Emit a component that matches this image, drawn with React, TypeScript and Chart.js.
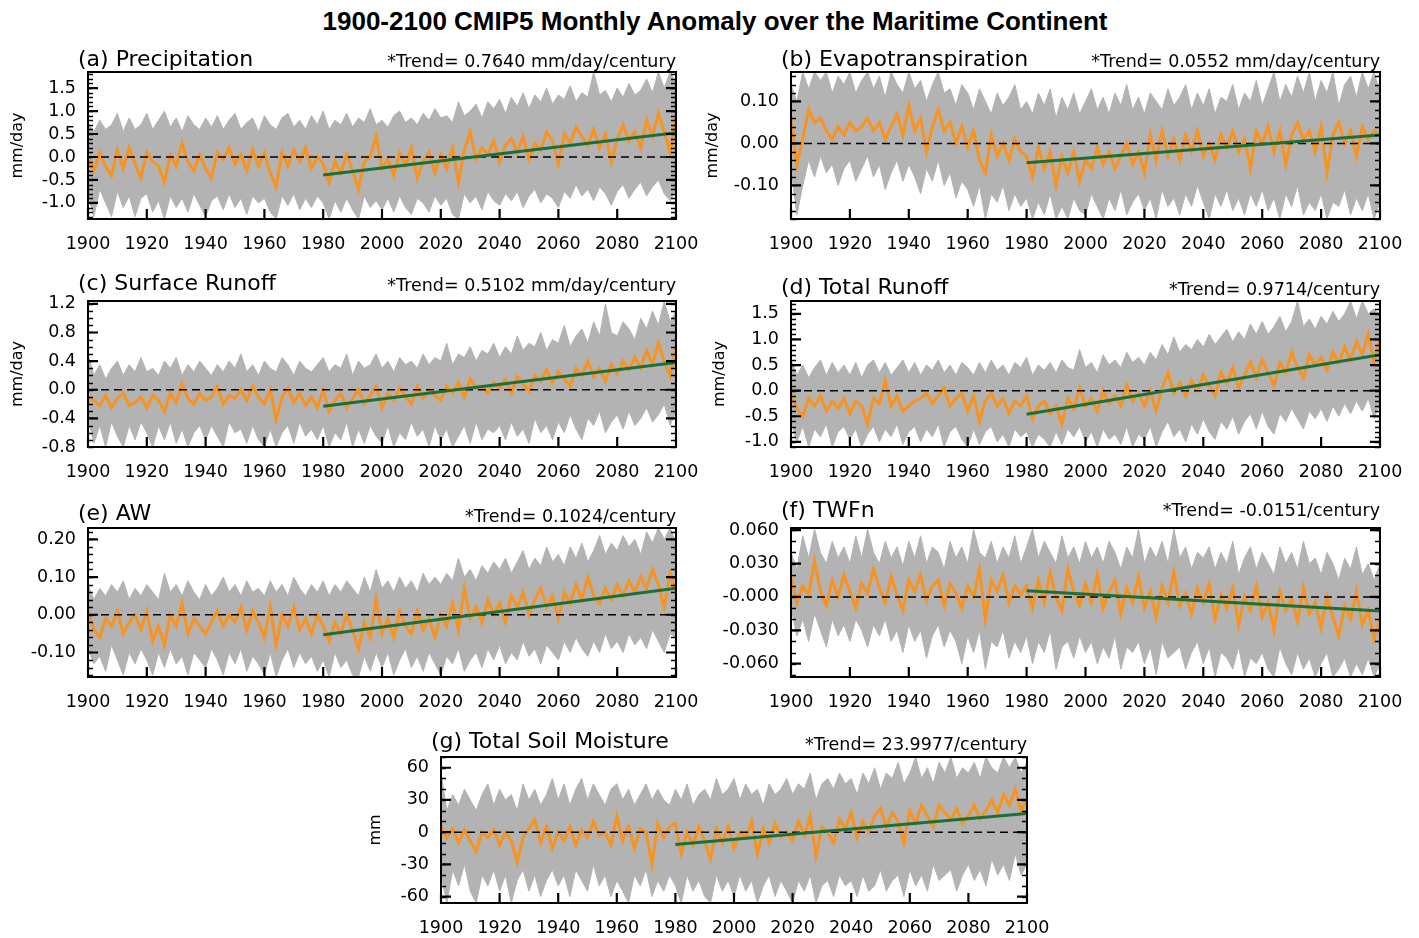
import React, { useEffect, useRef } from "react";
import { Chart, registerables } from "chart.js";

Chart.register(...registerables);

// ---------- shared axes ----------
const YEARS: number[] = Array.from({ length: 101 }, (_, i) => 1900 + 2 * i);
const X_TICKS = [1900, 1920, 1940, 1960, 1980, 2000, 2020, 2040, 2060, 2080, 2100];
const TREND_YEARS = [1980, 2100];
const ZERO_YEARS = [1900, 2100];
const ZERO_VALUES = [0, 0];

// ---------- (a) Precipitation ----------
const PR_MEAN = [
  0.05, -0.30, 0.10, -0.20, -0.40, 0.15, -0.25, 0.20, -0.15, -0.45,
  0.10, -0.10, -0.20, -0.55, 0.05, -0.20, 0.30, -0.10, -0.30, 0.05,
  -0.25, -0.45, 0.10, -0.05, 0.20, -0.15, 0.05, -0.30, 0.15, -0.20,
  0.10, -0.35, -0.65, 0.10, -0.20, 0.15, -0.10, 0.20, -0.25, 0.00,
  -0.15, -0.55, -0.10, -0.35, 0.05, -0.30, -0.70, -0.10, 0.00, 0.45,
  -0.25, -0.05, -0.40, 0.10, -0.20, 0.20, -0.45, -0.10, 0.10, -0.35,
  0.05, -0.25, 0.20, -0.55, 0.15, 0.55, -0.05, 0.20, 0.05, 0.35,
  -0.10, 0.25, 0.40, 0.10, 0.45, -0.05, 0.30, 0.15, 0.55, 0.35,
  -0.15, 0.50, 0.30, 0.65, 0.45, 0.25, 0.60, 0.20, 0.50, -0.10,
  0.40, 0.70, 0.35, 0.55, 0.20, 0.80, 0.45, 0.95, 0.55, 0.10,
  0.90,
];
const PR_UPPER = [
  0.75, 0.55, 0.80, 0.60, 0.70, 0.95, 0.55, 0.85, 0.60, 0.70,
  0.95, 0.60, 0.80, 1.00, 0.65, 0.85, 0.55, 0.90, 0.70, 0.60,
  0.85, 0.65, 0.90, 0.60, 0.80, 0.95, 0.60, 0.75, 0.85, 0.55,
  0.90, 0.70, 0.60, 0.85, 0.95, 0.65, 0.80, 0.60, 0.90, 0.70,
  1.00, 0.60, 0.80, 0.70, 0.95, 0.65, 0.85, 0.75, 1.05, 0.70,
  0.80, 0.65, 0.90, 1.00, 0.75, 0.85, 0.70, 0.95, 0.80, 1.05,
  0.85, 0.90, 0.75, 1.20, 0.90, 1.00, 1.15, 0.85, 1.20, 1.05,
  1.25, 0.95, 1.30, 1.10, 1.40, 1.05, 1.35, 1.20, 1.50, 1.15,
  1.35, 1.25, 1.55, 1.20, 1.40, 1.30, 1.85, 1.35, 1.45, 1.20,
  1.50, 1.30, 1.60, 1.35, 1.45, 1.70, 1.40, 1.85, 1.50, 1.85,
  1.60,
];
const PR_LOWER = [
  -0.80, -1.30, -0.70, -1.00, -1.30, -0.75, -1.10, -0.85, -1.30, -0.90,
  -0.80, -1.20, -0.95, -1.35, -0.85, -1.10, -0.90, -1.20, -0.80, -1.05,
  -1.30, -0.95, -0.85, -1.15, -0.80, -1.10, -0.90, -1.25, -0.85, -1.00,
  -0.90, -1.20, -1.35, -0.85, -1.05, -0.80, -1.15, -0.90, -1.10, -0.85,
  -1.00, -1.35, -0.95, -1.20, -0.90, -1.15, -1.35, -0.85, -1.10, -0.95,
  -1.15, -0.90, -1.20, -0.85, -1.10, -1.25, -0.90, -1.00, -1.20, -0.85,
  -1.05, -0.90, -1.25, -1.35, -0.80, -1.00, -0.85, -1.15, -0.75, -0.95,
  -1.05, -0.80, -0.95, -0.75, -1.10, -0.85, -0.70, -1.00, -0.80, -0.90,
  -1.10, -0.75, -0.90, -0.60, -0.85, -0.70, -0.95, -0.65, -0.80, -1.05,
  -0.75, -0.60, -0.90, -0.70, -0.55, -0.85, -0.65, -0.50, -0.80, -0.95,
  -0.70,
];
const PR_TREND = [-0.39, 0.53];
const PR_Y_TICKS = [-1.0, -0.5, 0.0, 0.5, 1.0, 1.5];
const PR_Y_LABELS = ["-1.0", "-0.5", "0.0", "0.5", "1.0", "1.5"];

// ---------- (b) Evapotranspiration ----------
const ET_MEAN = [
  0.06, -0.05, 0.01, 0.08, 0.05, 0.06, 0.03, 0.01, 0.04, 0.02,
  0.05, 0.03, 0.04, 0.06, 0.03, 0.05, 0.01, 0.04, 0.07, 0.02,
  0.09, 0.03, 0.06, -0.02, 0.04, 0.08, 0.03, 0.05, 0.00, 0.04,
  -0.01, 0.03, -0.04, -0.07, 0.02, -0.03, 0.00, -0.04, 0.01, -0.02,
  -0.03, -0.08, -0.01, -0.06, -0.02, -0.10, -0.03, -0.07, -0.02, -0.09,
  -0.04, -0.06, -0.01, -0.05, -0.02, -0.06, -0.03, 0.00, -0.05, -0.02,
  -0.07, 0.02, -0.04, 0.03, -0.03, 0.01, -0.04, 0.02, -0.02, 0.03,
  -0.03, 0.00, -0.04, 0.02, -0.01, 0.03, -0.02, 0.01, -0.06, 0.03,
  0.00, 0.04, -0.02, 0.03, -0.05, 0.02, 0.05, 0.01, 0.03, -0.02,
  0.04, -0.07, 0.02, 0.05, 0.00, 0.03, -0.03, 0.04, 0.01, 0.03,
  0.02,
];
const ET_UPPER = [
  0.14, 0.10, 0.17, 0.13, 0.17, 0.15, 0.17, 0.12, 0.16, 0.14,
  0.17, 0.12, 0.15, 0.17, 0.13, 0.16, 0.11, 0.17, 0.14, 0.12,
  0.17, 0.13, 0.15, 0.10, 0.14, 0.17, 0.12, 0.13, 0.09, 0.14,
  0.12, 0.08, 0.13, 0.10, 0.07, 0.12, 0.09, 0.11, 0.14, 0.08,
  0.10, 0.07, 0.12, 0.09, 0.13, 0.06, 0.11, 0.08, 0.12, 0.07,
  0.10, 0.13, 0.08, 0.11, 0.07, 0.12, 0.09, 0.14, 0.08, 0.11,
  0.07, 0.12, 0.10, 0.08, 0.13, 0.09, 0.11, 0.14, 0.08, 0.12,
  0.09, 0.13, 0.07, 0.11, 0.10, 0.14, 0.08, 0.12, 0.10, 0.15,
  0.09, 0.13, 0.17, 0.10, 0.14, 0.11, 0.16, 0.12, 0.17, 0.10,
  0.15, 0.12, 0.17, 0.09, 0.14, 0.16, 0.11, 0.17, 0.13, 0.17,
  0.12,
];
const ET_LOWER = [
  -0.06, -0.17, -0.10, -0.04, -0.08, -0.03, -0.07, -0.05, -0.10, -0.06,
  -0.04, -0.09, -0.06, -0.03, -0.08, -0.05, -0.11, -0.07, -0.04, -0.09,
  -0.05, -0.08, -0.12, -0.06, -0.09, -0.04, -0.10, -0.07, -0.13, -0.09,
  -0.11, -0.15, -0.10, -0.18, -0.12, -0.14, -0.10, -0.16, -0.12, -0.15,
  -0.13, -0.18, -0.14, -0.17, -0.12, -0.18, -0.15, -0.18, -0.13, -0.16,
  -0.17, -0.12, -0.15, -0.18, -0.13, -0.16, -0.11, -0.17, -0.14, -0.12,
  -0.16, -0.13, -0.18, -0.11, -0.15, -0.13, -0.17, -0.12, -0.15, -0.10,
  -0.14, -0.18, -0.12, -0.15, -0.11, -0.16, -0.13, -0.17, -0.12, -0.15,
  -0.11, -0.16, -0.13, -0.18, -0.12, -0.15, -0.10, -0.17, -0.14, -0.16,
  -0.12, -0.18, -0.14, -0.15, -0.11, -0.17, -0.13, -0.16, -0.12, -0.18,
  -0.14,
];
const ET_TREND = [-0.046, 0.02];
const ET_Y_TICKS = [-0.1, 0.0, 0.1];
const ET_Y_LABELS = ["-0.10", "0.00", "0.10"];

// ---------- (c) Surface Runoff ----------
const SR_MEAN = [
  -0.10, -0.15, -0.22, -0.08, -0.25, -0.12, -0.05, -0.22, -0.18, -0.10,
  -0.25, -0.08, -0.15, -0.30, -0.05, -0.18, 0.08, -0.12, -0.20, -0.05,
  -0.15, -0.10, 0.05, -0.20, -0.08, -0.12, 0.00, -0.15, 0.05, -0.10,
  -0.20, 0.00, -0.42, -0.10, 0.02, -0.18, -0.05, -0.22, -0.10, -0.25,
  0.00, -0.30, -0.15, -0.05, -0.25, -0.12, 0.00, -0.20, -0.08, 0.05,
  -0.25, -0.05, -0.15, 0.02, -0.10, -0.20, 0.05, -0.12, 0.00, -0.08,
  -0.15, 0.05, -0.05, 0.10, -0.10, 0.15, 0.02, 0.05, -0.05, 0.10,
  0.02, 0.15, -0.05, 0.18, 0.08, -0.02, 0.20, 0.12, 0.28, 0.10,
  0.25, 0.15, 0.05, 0.30, 0.20, 0.40, 0.18, 0.30, 0.12, 0.35,
  0.22, 0.40, 0.28, 0.45, 0.30, 0.55, 0.35, 0.65, 0.40, 0.20,
  0.60,
];
const SR_UPPER = [
  0.50, 0.20, 0.35, 0.15, 0.30, 0.40, 0.20, 0.35, 0.25, 0.45,
  0.25, 0.30, 0.20, 0.40, 0.30, 0.45, 0.20, 0.35, 0.25, 0.40,
  0.30, 0.20, 0.35, 0.25, 0.40, 0.30, 0.50, 0.25, 0.35, 0.20,
  0.40, 0.30, 0.25, 0.45, 0.35, 0.20, 0.40, 0.30, 0.25, 0.35,
  0.45, 0.25, 0.35, 0.30, 0.50, 0.20, 0.40, 0.30, 0.35, 0.50,
  0.30, 0.40, 0.25, 0.45, 0.35, 0.40, 0.30, 0.50, 0.35, 0.45,
  0.40, 0.65, 0.35, 0.50, 0.45, 0.60, 0.40, 0.55, 0.50, 0.65,
  0.45, 0.60, 0.50, 0.75, 0.55, 0.65, 0.60, 0.80, 0.55, 0.70,
  0.65, 0.90, 0.60, 0.75, 0.85, 0.65, 0.95, 0.75, 1.20, 0.80,
  0.75, 0.95, 0.85, 0.70, 1.00, 0.85, 1.10, 0.90, 1.24, 0.95,
  1.10,
];
const SR_LOWER = [
  -0.40, -0.75, -0.50, -0.80, -0.45, -0.65, -0.80, -0.50, -0.70, -0.45,
  -0.60, -0.80, -0.50, -0.70, -0.45, -0.75, -0.55, -0.80, -0.60, -0.50,
  -0.70, -0.50, -0.65, -0.80, -0.45, -0.60, -0.55, -0.75, -0.50, -0.70,
  -0.80, -0.55, -0.80, -0.60, -0.50, -0.75, -0.45, -0.65, -0.55, -0.70,
  -0.50, -0.80, -0.60, -0.70, -0.45, -0.80, -0.55, -0.75, -0.50, -0.65,
  -0.75, -0.50, -0.80, -0.60, -0.70, -0.45, -0.65, -0.55, -0.80, -0.50,
  -0.70, -0.55, -0.80, -0.65, -0.50, -0.75, -0.45, -0.70, -0.55, -0.60,
  -0.50, -0.70, -0.45, -0.65, -0.55, -0.75, -0.40, -0.60, -0.50, -0.70,
  -0.45, -0.60, -0.35, -0.55, -0.70, -0.40, -0.50, -0.30, -0.60, -0.45,
  -0.35, -0.55, -0.30, -0.50, -0.40, -0.25, -0.45, -0.35, -0.20, -0.50,
  -0.30,
];
const SR_TREND = [-0.23, 0.38];
const SR_Y_TICKS = [-0.8, -0.4, 0.0, 0.4, 0.8, 1.2];
const SR_Y_LABELS = ["-0.8", "-0.4", "0.0", "0.4", "0.8", "1.2"];

// ---------- (d) Total Runoff ----------
const TR_MEAN = [
  -0.05, -0.35, -0.50, -0.15, -0.30, -0.10, -0.40, -0.20, -0.35, -0.15,
  -0.45, -0.20, -0.30, -0.65, -0.15, -0.25, 0.20, -0.30, -0.10, -0.40,
  -0.30, -0.20, -0.15, -0.05, -0.25, -0.10, 0.05, -0.30, -0.15, -0.05,
  -0.40, -0.10, -0.60, -0.20, -0.05, -0.30, -0.15, -0.45, -0.20, -0.30,
  -0.10, -0.55, -0.30, -0.20, -0.45, -0.30, -0.65, -0.15, -0.35, 0.05,
  -0.30, -0.15, -0.40, 0.00, -0.25, -0.10, -0.30, 0.10, -0.20, -0.05,
  -0.30, 0.00, -0.40, 0.05, 0.35, -0.05, 0.15, -0.10, 0.20, 0.00,
  0.30, 0.10, -0.10, 0.35, 0.15, 0.45, 0.05, 0.30, 0.55, 0.25,
  0.60, 0.35, 0.10, 0.55, 0.35, 0.75, 0.45, 0.25, 0.70, 0.50,
  0.65, 0.40, 0.75, 0.55, 0.85, 0.60, 0.95, 0.70, 1.10, 0.55,
  1.00,
];
const TR_UPPER = [
  0.60, 0.30, 0.50, 0.25, 0.45, 0.60, 0.30, 0.55, 0.35, 0.50,
  0.30, 0.55, 0.25, 0.50, 0.60, 0.35, 0.55, 0.30, 0.45, 0.60,
  0.35, 0.55, 0.30, 0.50, 0.40, 0.60, 0.35, 0.50, 0.30, 0.55,
  0.45, 0.30, 0.55, 0.35, 0.60, 0.40, 0.50, 0.30, 0.55, 0.45,
  0.65, 0.30, 0.50, 0.40, 0.55, 0.35, 0.60, 0.45, 0.40, 0.80,
  0.45, 0.55, 0.35, 0.70, 0.50, 0.60, 0.45, 0.75, 0.55, 0.65,
  0.50, 0.75, 0.60, 0.90, 0.70, 1.05, 0.75, 0.90, 0.80, 1.00,
  0.85, 1.10, 0.90, 1.05, 1.20, 0.95, 1.15, 1.00, 1.30, 1.10,
  1.35, 1.10, 1.25, 1.45, 1.15, 1.35, 1.75, 1.25, 1.40, 1.20,
  1.45, 1.30, 1.55, 1.35, 1.50, 1.75, 1.40, 1.75, 1.50, 1.60,
  1.45,
];
const TR_LOWER = [
  -0.60, -1.00, -0.70, -1.10, -0.75, -0.90, -0.65, -1.10, -0.80, -0.70,
  -0.95, -0.75, -1.10, -0.85, -0.70, -1.00, -0.75, -0.90, -0.65, -1.05,
  -0.80, -0.70, -1.00, -0.75, -0.90, -0.65, -1.10, -0.80, -0.70, -0.95,
  -1.10, -0.75, -1.05, -0.80, -0.70, -1.00, -0.85, -1.10, -0.75, -0.90,
  -0.80, -1.10, -0.85, -0.95, -1.10, -0.80, -1.05, -0.75, -0.90, -0.70,
  -1.00, -0.80, -1.10, -0.75, -0.95, -0.85, -1.05, -0.70, -1.10, -0.85,
  -0.95, -0.70, -1.10, -0.80, -0.60, -0.90, -0.75, -1.00, -0.65, -0.85,
  -0.55, -0.80, -0.95, -0.60, -0.75, -0.50, -0.85, -0.60, -0.45, -0.75,
  -0.40, -0.70, -0.85, -0.45, -0.60, -0.35, -0.55, -0.75, -0.40, -0.55,
  -0.35, -0.60, -0.30, -0.50, -0.25, -0.45, -0.20, -0.40, -0.15, -0.55,
  -0.25,
];
const TR_TREND = [-0.46, 0.7];
const TR_Y_TICKS = [-1.0, -0.5, 0.0, 0.5, 1.0, 1.5];
const TR_Y_LABELS = ["-1.0", "-0.5", "0.0", "0.5", "1.0", "1.5"];

// ---------- (e) AW ----------
const AW_MEAN = [
  0.01, -0.04, -0.06, -0.01, -0.03, 0.01, -0.05, -0.02, 0.00, -0.04,
  0.01, -0.07, -0.03, -0.08, 0.00, -0.03, 0.03, -0.05, -0.01, -0.03,
  -0.05, -0.02, 0.01, -0.03, 0.00, -0.02, 0.02, -0.04, 0.01, -0.02,
  -0.06, 0.02, -0.08, 0.00, -0.03, 0.02, -0.04, -0.01, -0.05, 0.00,
  -0.03, -0.07, -0.02, -0.05, 0.00, -0.04, -0.09, -0.02, -0.06, 0.04,
  -0.05, -0.01, -0.06, 0.01, -0.03, -0.05, 0.01, -0.04, -0.01, -0.06,
  0.00, -0.03, 0.03, -0.04, 0.07, -0.01, 0.02, -0.02, 0.04, 0.00,
  0.03, -0.02, 0.05, 0.02, 0.06, 0.00, 0.04, 0.07, 0.02, 0.05,
  -0.01, 0.06, 0.03, 0.08, 0.04, 0.10, 0.05, 0.03, 0.07, 0.04,
  0.08, 0.05, 0.09, 0.06, 0.10, 0.07, 0.12, 0.08, 0.02, 0.11,
  0.06,
];
const AW_UPPER = [
  0.08, 0.04, 0.07, 0.05, 0.08, 0.06, 0.09, 0.04, 0.07, 0.05,
  0.08, 0.06, 0.04, 0.11, 0.06, 0.08, 0.05, 0.09, 0.06, 0.04,
  0.08, 0.05, 0.07, 0.10, 0.06, 0.08, 0.05, 0.09, 0.06, 0.07,
  0.05, 0.09, 0.06, 0.08, 0.05, 0.10, 0.07, 0.05, 0.08, 0.06,
  0.09, 0.05, 0.08, 0.06, 0.09, 0.07, 0.05, 0.10, 0.06, 0.12,
  0.07, 0.09, 0.06, 0.10, 0.07, 0.09, 0.06, 0.11, 0.08, 0.10,
  0.08, 0.11, 0.09, 0.15, 0.10, 0.12, 0.09, 0.13, 0.11, 0.14,
  0.12, 0.15, 0.11, 0.14, 0.17, 0.12, 0.15, 0.13, 0.18, 0.14,
  0.16, 0.13, 0.18, 0.15, 0.19, 0.14, 0.17, 0.21, 0.16, 0.19,
  0.17, 0.21, 0.18, 0.20, 0.16, 0.22, 0.19, 0.23, 0.20, 0.23,
  0.19,
];
const AW_LOWER = [
  -0.09, -0.13, -0.11, -0.15, -0.08, -0.12, -0.16, -0.10, -0.13, -0.09,
  -0.12, -0.16, -0.10, -0.14, -0.09, -0.13, -0.11, -0.16, -0.10, -0.12,
  -0.14, -0.09, -0.12, -0.16, -0.10, -0.13, -0.09, -0.15, -0.11, -0.13,
  -0.16, -0.10, -0.165, -0.12, -0.09, -0.14, -0.10, -0.13, -0.11, -0.15,
  -0.12, -0.165, -0.10, -0.14, -0.12, -0.16, -0.165, -0.11, -0.15, -0.10,
  -0.14, -0.10, -0.16, -0.12, -0.09, -0.14, -0.11, -0.15, -0.10, -0.13,
  -0.16, -0.11, -0.13, -0.09, -0.15, -0.12, -0.10, -0.14, -0.09, -0.12,
  -0.08, -0.13, -0.10, -0.12, -0.07, -0.11, -0.09, -0.13, -0.08, -0.10,
  -0.12, -0.07, -0.10, -0.06, -0.09, -0.11, -0.07, -0.10, -0.05, -0.09,
  -0.07, -0.10, -0.05, -0.08, -0.06, -0.09, -0.04, -0.07, -0.10, -0.05,
  -0.06,
];
const AW_TREND = [-0.053, 0.07];
const AW_Y_TICKS = [-0.1, 0.0, 0.1, 0.2];
const AW_Y_LABELS = ["-0.10", "0.00", "0.10", "0.20"];

// ---------- (f) TWFn ----------
const TW_MEAN = [
  0.018, -0.005, 0.010, 0.002, 0.032, 0.005, -0.008, 0.015, 0.000, 0.020,
  0.005, -0.010, 0.012, 0.003, 0.025, 0.008, -0.005, 0.018, 0.002, -0.012,
  0.015, 0.005, 0.020, -0.003, 0.010, 0.015, -0.008, 0.012, 0.003, -0.010,
  0.010, 0.000, 0.025, -0.020, 0.015, 0.005, 0.020, -0.005, 0.010, 0.002,
  0.010, -0.010, 0.015, -0.005, 0.022, 0.000, -0.012, 0.025, 0.005, -0.008,
  0.012, -0.005, 0.020, -0.010, 0.005, 0.015, -0.015, 0.008, -0.005, 0.018,
  -0.010, 0.005, -0.018, 0.010, -0.005, 0.022, -0.008, 0.003, -0.015, 0.008,
  -0.005, 0.012, -0.020, 0.002, -0.010, 0.008, -0.025, 0.000, -0.012, 0.010,
  -0.018, -0.005, -0.030, 0.005, -0.012, -0.002, -0.022, 0.008, -0.015, -0.005,
  -0.028, 0.000, -0.018, -0.035, -0.008, -0.020, 0.005, -0.025, -0.012, -0.038,
  -0.020,
];
const TW_UPPER = [
  0.040, 0.025, 0.055, 0.035, 0.061, 0.040, 0.030, 0.050, 0.035, 0.045,
  0.030, 0.055, 0.035, 0.061, 0.040, 0.030, 0.050, 0.035, 0.045, 0.028,
  0.050, 0.035, 0.055, 0.030, 0.045, 0.040, 0.025, 0.050, 0.035, 0.045,
  0.030, 0.061, 0.040, 0.035, 0.050, 0.030, 0.045, 0.035, 0.055, 0.030,
  0.045, 0.061, 0.035, 0.050, 0.040, 0.030, 0.055, 0.035, 0.045, 0.030,
  0.050, 0.035, 0.045, 0.030, 0.050, 0.040, 0.025, 0.045, 0.035, 0.061,
  0.030, 0.045, 0.035, 0.050, 0.030, 0.061, 0.035, 0.045, 0.025, 0.040,
  0.035, 0.045, 0.025, 0.040, 0.030, 0.050, 0.020, 0.035, 0.045, 0.025,
  0.040, 0.030, 0.020, 0.045, 0.030, 0.040, 0.025, 0.050, 0.030, 0.035,
  0.020, 0.040, 0.030, 0.015, 0.035, 0.025, 0.045, 0.020, 0.030, 0.015,
  0.030,
];
const TW_LOWER = [
  -0.010, -0.035, -0.020, -0.040, -0.015, -0.030, -0.045, -0.020, -0.035, -0.025,
  -0.040, -0.020, -0.030, -0.045, -0.025, -0.035, -0.020, -0.040, -0.030, -0.050,
  -0.025, -0.040, -0.030, -0.055, -0.035, -0.025, -0.045, -0.030, -0.040, -0.060,
  -0.035, -0.050, -0.030, -0.065, -0.040, -0.045, -0.030, -0.055, -0.040, -0.050,
  -0.035, -0.060, -0.040, -0.050, -0.030, -0.065, -0.045, -0.040, -0.055, -0.035,
  -0.050, -0.040, -0.060, -0.045, -0.055, -0.035, -0.065, -0.045, -0.050, -0.040,
  -0.060, -0.045, -0.070, -0.040, -0.055, -0.050, -0.045, -0.065, -0.050, -0.040,
  -0.060, -0.045, -0.072, -0.050, -0.055, -0.065, -0.045, -0.072, -0.055, -0.060,
  -0.050, -0.065, -0.072, -0.045, -0.060, -0.070, -0.050, -0.065, -0.055, -0.072,
  -0.060, -0.050, -0.072, -0.065, -0.055, -0.072, -0.060, -0.070, -0.055, -0.072,
  -0.060,
];
const TW_TREND = [0.0055, -0.0127];
const TW_Y_TICKS = [-0.06, -0.03, 0.0, 0.03, 0.06];
const TW_Y_LABELS = ["-0.060", "-0.030", "-0.000", "0.030", "0.060"];

// ---------- (g) Total Soil Moisture ----------
const SM_MEAN = [
  5, -5, 3, -10, 2, -8, -18, 0, -5, 2,
  -12, 0, -8, -28, -5, 3, 12, -10, 5, -15,
  0, -8, 5, -12, 2, -5, 10, -3, 0, -12,
  15, -8, 5, -15, 3, 0, -30, 8, -5, 5,
  8, -20, 0, -12, 5, -8, -25, 3, -10, 5,
  -15, 0, -5, 10, -20, 3, -10, 8, -5, 0,
  -8, 10, -3, 15, -22, 5, 0, -10, 12, 3,
  18, -5, 10, 0, 15, 22, 5, 18, 10, -10,
  20, 8, 25, 15, 5, 25, 18, 12, 22, 8,
  15, 25, 12, 20, 30, 18, 35, 25, 40, 20,
  30,
];
const SM_UPPER = [
  55, 20, 35, 25, 40, 30, 20, 35, 45, 25,
  40, 30, 35, 20, 45, 30, 40, 25, 35, 50,
  30, 45, 25, 40, 50, 30, 45, 35, 25, 40,
  45, 30, 40, 25, 35, 45, 30, 40, 30, 25,
  40, 30, 45, 25, 35, 40, 30, 50, 35, 40,
  50, 30, 45, 35, 40, 25, 45, 35, 40, 50,
  35, 45, 40, 55, 30, 45, 50, 40, 55, 45,
  50, 35, 55, 45, 60, 40, 55, 50, 65, 45,
  55, 70, 50, 60, 45, 65, 55, 70, 50, 60,
  55, 65, 50, 70, 60, 55, 70, 60, 70, 55,
  65,
];
const SM_LOWER = [
  -40, -66, -35, -50, -30, -55, -66, -40, -50, -35,
  -55, -40, -66, -45, -35, -55, -40, -60, -45, -35,
  -50, -40, -60, -35, -45, -55, -30, -50, -40, -60,
  -45, -55, -66, -40, -50, -35, -60, -45, -55, -40,
  -50, -66, -40, -55, -45, -60, -66, -40, -55, -45,
  -60, -40, -55, -45, -66, -50, -40, -60, -45, -55,
  -66, -45, -55, -40, -66, -50, -45, -60, -40, -50,
  -45, -60, -40, -55, -50, -35, -55, -45, -40, -60,
  -35, -50, -40, -55, -30, -45, -40, -35, -55, -40,
  -30, -45, -35, -50, -25, -40, -30, -45, -20, -40,
  -30,
];
const SM_TREND = [-11.4, 17.4];
const SM_Y_TICKS = [-60, -30, 0, 30, 60];
const SM_Y_LABELS = ["-60", "-30", "0", "30", "60"];

// ---------- styling ----------
const GRAY = "#b3b3b3";
const ORANGE = "#f7931e";
const GREEN = "#19703c";
const FONT = '"DejaVu Sans", "Liberation Sans", sans-serif';
const AXIS_W = 88;
const AXIS_H = 44;
const PAD_TOP = 26;
const PAD_RIGHT = 40;

type Spec = {
  title: string;
  trendText: string;
  yTitle: string;
  yTitlePad: number;
  L: number; R: number; T: number; B: number;
  titleBase: number; trendBase: number;
  yMin: number; yMax: number; minorStep: number;
  yTicks: number[]; yLabels: string[];
  mean: number[]; upper: number[]; lower: number[]; trend: number[];
};

const PANELS: Spec[] = [
  { title: "(a) Precipitation", trendText: "*Trend= 0.7640 mm/day/century", yTitle: "mm/day", yTitlePad: 8,
    L: 88, R: 676, T: 72, B: 219, titleBase: 67, trendBase: 68,
    yMin: -1.35, yMax: 1.85, minorStep: 0.1, yTicks: PR_Y_TICKS, yLabels: PR_Y_LABELS,
    mean: PR_MEAN, upper: PR_UPPER, lower: PR_LOWER, trend: PR_TREND },
  { title: "(b) Evapotranspiration", trendText: "*Trend= 0.0552 mm/day/century", yTitle: "mm/day", yTitlePad: 0,
    L: 791, R: 1380, T: 72, B: 219, titleBase: 67, trendBase: 68,
    yMin: -0.18, yMax: 0.17, minorStep: 0.02, yTicks: ET_Y_TICKS, yLabels: ET_Y_LABELS,
    mean: ET_MEAN, upper: ET_UPPER, lower: ET_LOWER, trend: ET_TREND },
  { title: "(c) Surface Runoff", trendText: "*Trend= 0.5102 mm/day/century", yTitle: "mm/day", yTitlePad: 8,
    L: 88, R: 676, T: 301, B: 447, titleBase: 291, trendBase: 292,
    yMin: -0.8, yMax: 1.24, minorStep: 0.1, yTicks: SR_Y_TICKS, yLabels: SR_Y_LABELS,
    mean: SR_MEAN, upper: SR_UPPER, lower: SR_LOWER, trend: SR_TREND },
  { title: "(d) Total Runoff", trendText: "*Trend= 0.9714/century", yTitle: "mm/day", yTitlePad: 7,
    L: 791, R: 1380, T: 301, B: 447, titleBase: 295, trendBase: 296,
    yMin: -1.1, yMax: 1.75, minorStep: 0.1, yTicks: TR_Y_TICKS, yLabels: TR_Y_LABELS,
    mean: TR_MEAN, upper: TR_UPPER, lower: TR_LOWER, trend: TR_TREND },
  { title: "(e) AW", trendText: "*Trend= 0.1024/century", yTitle: "", yTitlePad: 0,
    L: 88, R: 676, T: 528, B: 677, titleBase: 521, trendBase: 523,
    yMin: -0.165, yMax: 0.23, minorStep: 0.02, yTicks: AW_Y_TICKS, yLabels: AW_Y_LABELS,
    mean: AW_MEAN, upper: AW_UPPER, lower: AW_LOWER, trend: AW_TREND },
  { title: "(f) TWFn", trendText: "*Trend= -0.0151/century", yTitle: "", yTitlePad: 0,
    L: 791, R: 1380, T: 528, B: 677, titleBase: 518, trendBase: 517,
    yMin: -0.072, yMax: 0.062, minorStep: 0.01, yTicks: TW_Y_TICKS, yLabels: TW_Y_LABELS,
    mean: TW_MEAN, upper: TW_UPPER, lower: TW_LOWER, trend: TW_TREND },
  { title: "(g) Total Soil Moisture", trendText: "*Trend= 23.9977/century", yTitle: "mm", yTitlePad: 13,
    L: 441, R: 1027, T: 757, B: 903, titleBase: 749, trendBase: 751,
    yMin: -66, yMax: 70, minorStep: 10, yTicks: SM_Y_TICKS, yLabels: SM_Y_LABELS,
    mean: SM_MEAN, upper: SM_UPPER, lower: SM_LOWER, trend: SM_TREND },
];

const toXY = (xs: number[], ys: number[]) => xs.map((x, i) => ({ x, y: ys[i] }));

const framePlugin = {
  id: "ncarFrame",
  afterDatasetsDraw(chart: any) {
    const spec: Spec = chart.options.plugins.ncarFrame.spec;
    const { ctx, chartArea: ca, scales } = chart;
    const ys = scales.y;
    const xs = scales.x;
    ctx.save();
    ctx.strokeStyle = "#000";
    ctx.lineCap = "butt";
    // minor y ticks (left & right, inward)
    ctx.lineWidth = 1.3;
    const k0 = Math.ceil(spec.yMin / spec.minorStep - 1e-6);
    const k1 = Math.floor(spec.yMax / spec.minorStep + 1e-6);
    for (let k = k0; k <= k1; k++) {
      const py = Math.round(ys.getPixelForValue(k * spec.minorStep)) + 0.5;
      ctx.beginPath();
      ctx.moveTo(ca.left, py); ctx.lineTo(ca.left + 5, py);
      ctx.moveTo(ca.right, py); ctx.lineTo(ca.right - 5, py);
      ctx.stroke();
    }
    // major y ticks
    ctx.lineWidth = 2.2;
    for (const v of spec.yTicks) {
      const py = ys.getPixelForValue(v);
      ctx.beginPath();
      ctx.moveTo(ca.left, py); ctx.lineTo(ca.left + 10, py);
      ctx.moveTo(ca.right, py); ctx.lineTo(ca.right - 10, py);
      ctx.stroke();
    }
    // major x ticks (bottom, inward)
    for (const v of X_TICKS) {
      const px = xs.getPixelForValue(v);
      ctx.beginPath();
      ctx.moveTo(px, ca.bottom); ctx.lineTo(px, ca.bottom - 10);
      ctx.stroke();
    }
    // frame
    ctx.lineWidth = 2;
    ctx.strokeRect(ca.left, ca.top, ca.right - ca.left, ca.bottom - ca.top);
    ctx.restore();
  },
};

function Panel({ spec }: { spec: Spec }) {
  const ref = useRef<HTMLCanvasElement | null>(null);
  const width = spec.R - spec.L + AXIS_W + PAD_RIGHT;
  const height = spec.B - spec.T + PAD_TOP + AXIS_H;

  useEffect(() => {
    if (!ref.current) return;
    const chart = new Chart(ref.current, {
      type: "line",
      data: {
        datasets: [
          { data: toXY(YEARS, spec.lower), borderColor: GRAY, borderWidth: 1, pointRadius: 0, fill: false, order: 4 },
          { data: toXY(YEARS, spec.upper), borderColor: GRAY, borderWidth: 1, pointRadius: 0, fill: "-1", backgroundColor: GRAY, order: 4 },
          { data: toXY(YEARS, spec.mean), borderColor: ORANGE, borderWidth: 3, pointRadius: 0, fill: false, order: 3 },
          { data: toXY(ZERO_YEARS, ZERO_VALUES), borderColor: "#000", borderWidth: 1.5, borderDash: [8, 5], pointRadius: 0, fill: false, order: 2 },
          { data: toXY(TREND_YEARS, spec.trend), borderColor: GREEN, borderWidth: 3, pointRadius: 0, fill: false, order: 1 },
        ],
      } as any,
      options: {
        responsive: false,
        animation: false,
        devicePixelRatio: 1,
        events: [],
        layout: { padding: { top: PAD_TOP, right: PAD_RIGHT, left: 0, bottom: 0 } },
        plugins: {
          legend: { display: false },
          tooltip: { enabled: false },
          ncarFrame: { spec },
        } as any,
        scales: {
          x: {
            type: "linear",
            min: 1900,
            max: 2100,
            grid: { display: false, drawTicks: false },
            border: { display: false },
            afterBuildTicks: (s: any) => { s.ticks = X_TICKS.map((v) => ({ value: v })); },
            afterFit: (s: any) => { s.height = AXIS_H; },
            ticks: {
              autoSkip: false, maxRotation: 0, minRotation: 0, padding: 15, color: "#000",
              font: { family: FONT, size: 17.5 },
              callback: (v: any) => String(v),
            },
          },
          y: {
            type: "linear",
            min: spec.yMin,
            max: spec.yMax,
            grid: { display: false, drawTicks: false },
            border: { display: false },
            afterBuildTicks: (s: any) => { s.ticks = spec.yTicks.map((v) => ({ value: v })); },
            afterFit: (s: any) => { s.width = AXIS_W; },
            title: {
              display: spec.yTitle !== "",
              text: spec.yTitle,
              color: "#000",
              font: { family: FONT, size: 16 },
              padding: { top: spec.yTitlePad, bottom: 0 },
            },
            ticks: {
              padding: 12, color: "#000",
              font: { family: FONT, size: 17.5 },
              callback: (_v: any, i: number) => spec.yLabels[i],
            },
          },
        },
      } as any,
      plugins: [framePlugin as any],
    });
    return () => chart.destroy();
  }, [spec]);

  return (
    <>
      <canvas
        ref={ref}
        width={width}
        height={height}
        style={{ position: "absolute", left: spec.L - AXIS_W, top: spec.T - PAD_TOP, width, height }}
      />
      <div
        style={{
          position: "absolute", left: spec.L - 10, top: spec.titleBase - 0.846 * 22,
          fontFamily: FONT, fontSize: 22, lineHeight: "22px", whiteSpace: "nowrap", color: "#000",
        }}
      >
        {spec.title}
      </div>
      <div
        style={{
          position: "absolute", left: spec.R, top: spec.trendBase - 0.846 * 17.5,
          transform: "translateX(-100%)",
          fontFamily: FONT, fontSize: 17.5, lineHeight: "17.5px", whiteSpace: "nowrap", color: "#000",
        }}
      >
        {spec.trendText}
      </div>
    </>
  );
}

export default function App() {
  return (
    <div style={{ position: "absolute", left: 0, top: 0, width: 1419, height: 938, background: "#fff", overflow: "hidden" }}>
      <div
        style={{
          position: "absolute", left: 715, top: 7.5, transform: "translateX(-50%)",
          fontFamily: '"Liberation Sans", Arial, sans-serif', fontWeight: "bold", fontSize: 26, lineHeight: "26px",
          whiteSpace: "nowrap", color: "#000",
        }}
      >
        1900-2100 CMIP5 Monthly Anomaly over the Maritime Continent
      </div>
      {PANELS.map((p) => (
        <Panel key={p.title} spec={p} />
      ))}
    </div>
  );
}
